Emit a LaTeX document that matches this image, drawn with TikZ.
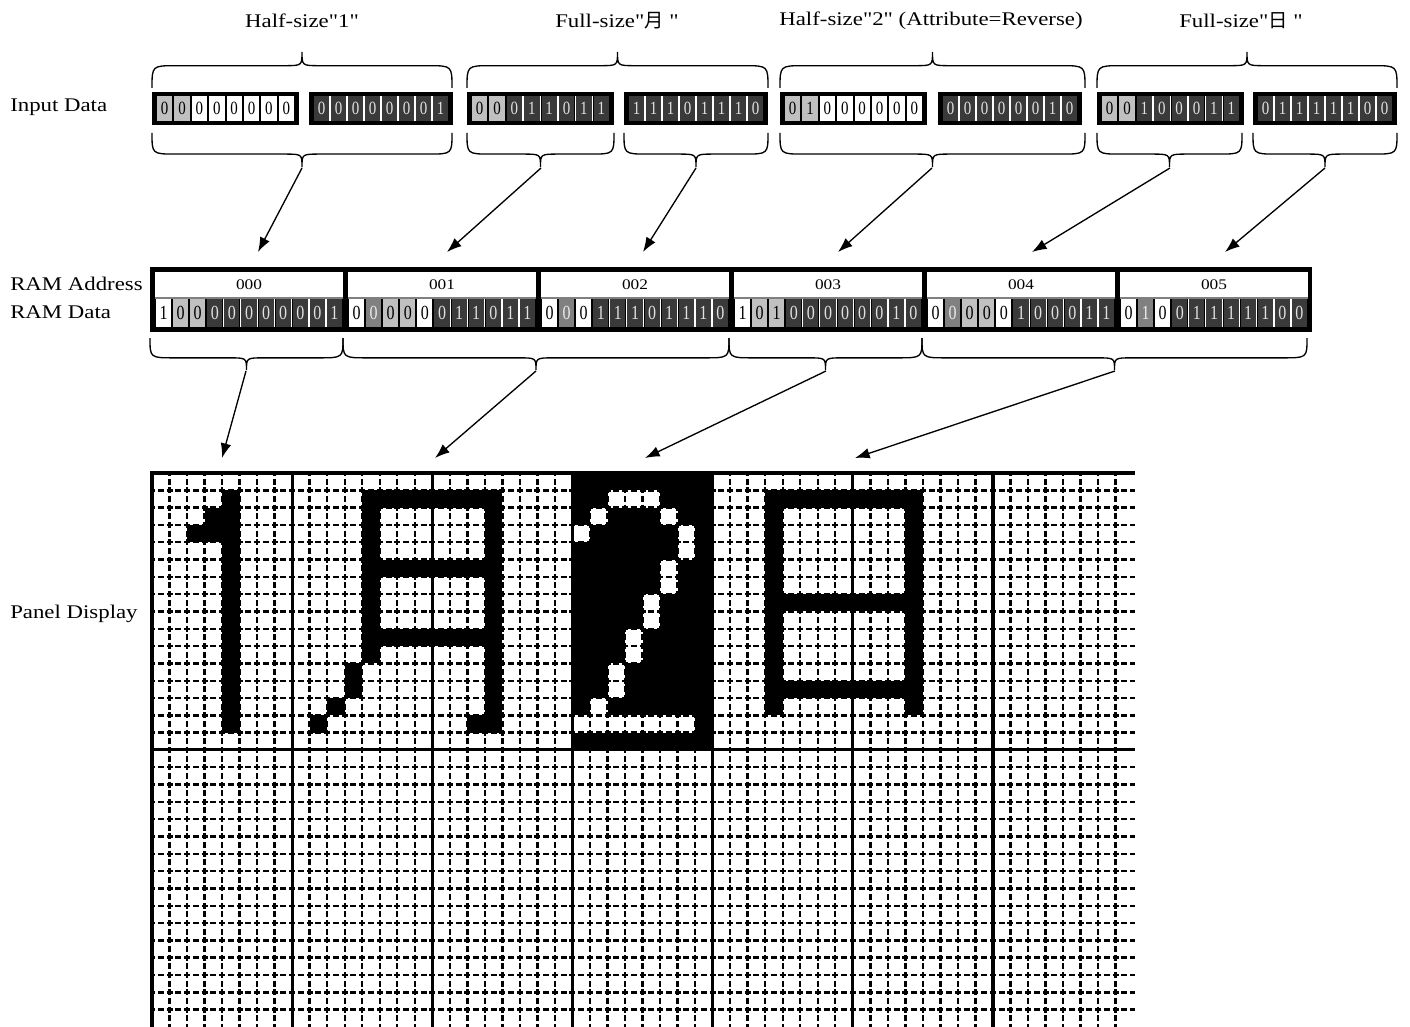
\documentclass[tikz,border=0pt]{standalone}
\usepackage{fontspec}
\setmainfont{Liberation Serif}[FakeStretch=1.18,Ligatures=TeXOff]
\newfontfamily\digf{Liberation Serif}[FakeStretch=0.8]
\newfontfamily\cjk{Noto Sans CJK JP}
\usetikzlibrary{arrows.meta}
\definecolor{cellw}{RGB}{255,255,255}
\definecolor{celll}{RGB}{192,192,192}
\definecolor{celld}{RGB}{58,58,58}
\definecolor{cellm}{RGB}{128,128,128}
\definecolor{txtw}{RGB}{0,0,0}
\definecolor{txtl}{RGB}{0,0,0}
\definecolor{txtd}{RGB}{225,225,225}
\definecolor{txtm}{RGB}{235,235,235}
\tikzset{
  digit/.style={inner sep=0pt,font=\digf\fontsize{14}{15}\selectfont},
  rdigit/.style={inner sep=0pt,font=\digf\fontsize{15}{16}\selectfont},
  addr/.style={inner sep=0pt,font=\fontsize{11}{12}\selectfont},
  lbl/.style={inner sep=0pt,font=\fontsize{14.5}{17}\selectfont},
  brc/.style={line width=1pt},
  arr/.style={line width=1pt,-{Latex[length=11pt,width=8pt]}},
  hdash/.style={line width=1.8pt,dash pattern=on 4.5pt off 2.07pt,dash phase=2.25pt},
  vdash/.style={line width=1.8pt,dash pattern=on 4.5pt off 1.99pt,dash phase=2.25pt},
  gline/.style={line width=2.3pt}
}
% row of cells: #1 x0, #2 pitch, #3 ytop, #4 ybot, #5 list, #6 name prefix, #7 text style
\newcommand{\cellrow}[7]{%
  \foreach \kk/\vv [count=\ii from 0, remember=\kk as \pk (initially x)] in {#5} {
    \fill[fill=cell\kk] ({#1+\ii*#2+1},#3) rectangle ({#1+(\ii+1)*#2-1},#4);
    \if\kk d\if\pk d\draw[white,line width=1.1pt] ({#1+\ii*#2},#3) -- ({#1+\ii*#2},#4);\fi\fi
    \node[#7,text=txt\kk] (#6-\ii) at ({#1+(\ii+0.5)*#2},{(#3+#4)/2}) {\vv};
  }}
% input byte: #1 x-left, #2 width, #3 list, #4 name
\newcommand{\inbyte}[4]{%
  \fill[black] (#1,92) rectangle ({#1+#2},125);
  \cellrow{#1+4}{(#2-8)/8}{96}{121}{#3}{#4}{digit}}
% horizontal brace: #1 x-left, #2 x-right, #3 y-ends, #4 y-tip
\newcommand{\hbrace}[4]{%
  \pgfmathsetmacro{\bxm}{(#1+#2)/2}%
  \pgfmathsetmacro{\bym}{#3+0.62*(#4-#3)}%
  \draw[brc] (#1,#3) .. controls (#1,\bym) and (#1,\bym) .. ({#1+24},\bym)
    -- ({\bxm-18},\bym) .. controls (\bxm,\bym) and (\bxm,\bym) .. (\bxm,#4)
    .. controls (\bxm,\bym) and (\bxm,\bym) .. ({\bxm+18},\bym)
    -- ({#2-24},\bym) .. controls (#2,\bym) and (#2,\bym) .. (#2,#3);}
\begin{document}
\begin{tikzpicture}[x=0.75pt,y=-0.75pt]
\useasboundingbox (0,0) rectangle (1410,1027);
\fill[white] (0,0) rectangle (1410,1027);

% titles
\node[lbl] (t1) at (302,21) {Half-size"1"};
\node[lbl] (t2) at (617,21) {Full-size"{\cjk 月} "};
\node[lbl] (t3) at (931,21) {Half-size"2" (Attribute=Reverse)};
\node[lbl] (t4) at (1241,21) {Full-size"{\cjk 日} "};

% left labels
\node[lbl,anchor=west] (lin) at (10,107) {Input Data};
\node[lbl,anchor=west] (lra) at (10,284) {RAM Address};
\node[lbl,anchor=west] (lrd) at (10,312) {RAM Data};
\node[lbl,anchor=west] (lpd) at (10,614) {Panel Display};

% top braces
\hbrace{152}{452}{88}{52}
\hbrace{467}{768}{88}{52}
\hbrace{780}{1085}{88}{52}
\hbrace{1097}{1397}{88}{52}

% input bytes
\inbyte{152}{147}{l/0,l/0,w/0,w/0,w/0,w/0,w/0,w/0}{ia}
\inbyte{309}{144}{d/0,d/0,d/0,d/0,d/0,d/0,d/0,d/1}{ib}
\inbyte{467}{147}{l/0,l/0,d/0,d/1,d/1,d/0,d/1,d/1}{ic}
\inbyte{624}{144}{d/1,d/1,d/1,d/0,d/1,d/1,d/1,d/0}{id}
\inbyte{780}{147}{l/0,l/1,w/0,w/0,w/0,w/0,w/0,w/0}{ie}
\inbyte{938}{144}{d/0,d/0,d/0,d/0,d/0,d/0,d/1,d/0}{if}
\inbyte{1097}{147}{l/0,l/0,d/1,d/0,d/0,d/0,d/1,d/1}{ig}
\inbyte{1253}{144}{d/0,d/1,d/1,d/1,d/1,d/1,d/0,d/0}{ih}

% braces under input
\hbrace{152}{452}{133}{167}
\hbrace{467}{614}{133}{167}
\hbrace{624}{768}{133}{167}
\hbrace{780}{1085}{133}{167}
\hbrace{1097}{1242}{133}{167}
\hbrace{1253}{1397}{133}{167}

% RAM
\fill[black] (150,267) rectangle (1312,332);
\foreach \k in {0,...,5} {
  \pgfmathsetmacro{\xo}{155+193*\k}
  \fill[white] (\xo,272) rectangle ({\xo+188},297);
  \draw[gray,line width=0.8pt] (\xo,298) -- ({\xo+188},298);
  \node[addr] (ad\k) at ({\xo+94},285) {00\k};
}
\cellrow{155}{188/11}{299}{327}{w/1,l/0,l/0,d/0,d/0,d/0,d/0,d/0,d/0,d/0,d/1}{r0}{rdigit}
\cellrow{348}{188/11}{299}{327}{w/0,m/0,l/0,l/0,w/0,d/0,d/1,d/1,d/0,d/1,d/1}{r1}{rdigit}
\cellrow{541}{188/11}{299}{327}{w/0,m/0,w/0,d/1,d/1,d/1,d/0,d/1,d/1,d/1,d/0}{r2}{rdigit}
\cellrow{734}{188/11}{299}{327}{w/1,l/0,l/1,d/0,d/0,d/0,d/0,d/0,d/0,d/1,d/0}{r3}{rdigit}
\cellrow{927}{188/11}{299}{327}{w/0,m/0,l/0,l/0,w/0,d/1,d/0,d/0,d/0,d/1,d/1}{r4}{rdigit}
\cellrow{1120}{188/11}{299}{327}{w/0,m/1,w/0,d/0,d/1,d/1,d/1,d/1,d/1,d/0,d/0}{r5}{rdigit}

% braces under RAM
\hbrace{150}{343}{338}{370}
\hbrace{343}{729}{338}{370}
\hbrace{729}{922}{338}{370}
\hbrace{922}{1307}{338}{370}

% arrow coordinates
\coordinate (s1) at (302,168); \coordinate (e1) at (258,252);
\coordinate (s2) at (541,168); \coordinate (e2) at (447,252);
\coordinate (s3) at (696,168); \coordinate (e3) at (643,252);
\coordinate (s4) at (932,168); \coordinate (e4) at (838,252);
\coordinate (s5) at (1170,168); \coordinate (e5) at (1032,252);
\coordinate (s6) at (1325,168); \coordinate (e6) at (1225,252);
\foreach \n in {1,...,6} \draw[arr] (s\n) -- (e\n);
\coordinate (u1) at (246,371); \coordinate (v1) at (222,458);
\coordinate (u2) at (536,371); \coordinate (v2) at (435,458);
\coordinate (u3) at (826,371); \coordinate (v3) at (645,458);
\coordinate (u4) at (1115,371); \coordinate (v4) at (855,458);
\foreach \n in {1,...,4} \draw[arr] (u\n) -- (v\n);

% panel
\begin{scope}[shift={(152,473)},x=13.14pt,y=-12.9825pt]
  % half-size 1
  \fill (4,1) rectangle (5,15);
  \fill (3,2) rectangle (4,4);
  \fill (2,3) rectangle (3,4);
  % full-size tsuki
  \fill (12,1) rectangle (13,11);
  \fill (12,1) rectangle (20,2);
  \fill (12,5) rectangle (20,6);
  \fill (12,9) rectangle (20,10);
  \fill (19,1) rectangle (20,15);
  \fill (18,14) rectangle (19,15);
  \fill (11,11) rectangle (12,13);
  \fill (10,13) rectangle (11,14);
  \fill (9,14) rectangle (10,15);
  % reversed 2
  \fill (24,0) rectangle (32,16);
  \foreach \a/\b in {26/1,27/1,28/1,25/2,29/2,24/3,30/3,30/4,29/5,29/6,28/7,28/8,27/9,27/10,26/11,26/12,25/13}
    \fill[white] (\a,\b) rectangle ++(1,1);
  \fill[white] (24,14) rectangle (31,15);
  % full-size hi
  \fill (35,1) rectangle (36,14);
  \fill (43,1) rectangle (44,14);
  \fill (35,1) rectangle (44,2);
  \fill (35,7) rectangle (44,8);
  \fill (35,12) rectangle (44,13);
  % grid
  \foreach \r in {1,...,15} \draw[hdash] (0,\r) -- (56.1,\r);
  \foreach \r in {17,...,31} \draw[hdash] (0,\r) -- (56.1,\r);
  \foreach \g in {0,...,6} \foreach \j in {1,...,7}
    \draw[vdash] ({8*\g+\j},0) -- ({8*\g+\j},32);
  \foreach \g in {1,...,6} \draw[gline] (8*\g,0) -- (8*\g,32);
  \draw[gline] (0,16) -- (56.1,16);
  \draw[line width=2.6pt] (0,0) -- (56.1,0);
  \draw[line width=3.2pt] (0,-0.1) -- (0,32);
\end{scope}
\end{tikzpicture}
\end{document}
